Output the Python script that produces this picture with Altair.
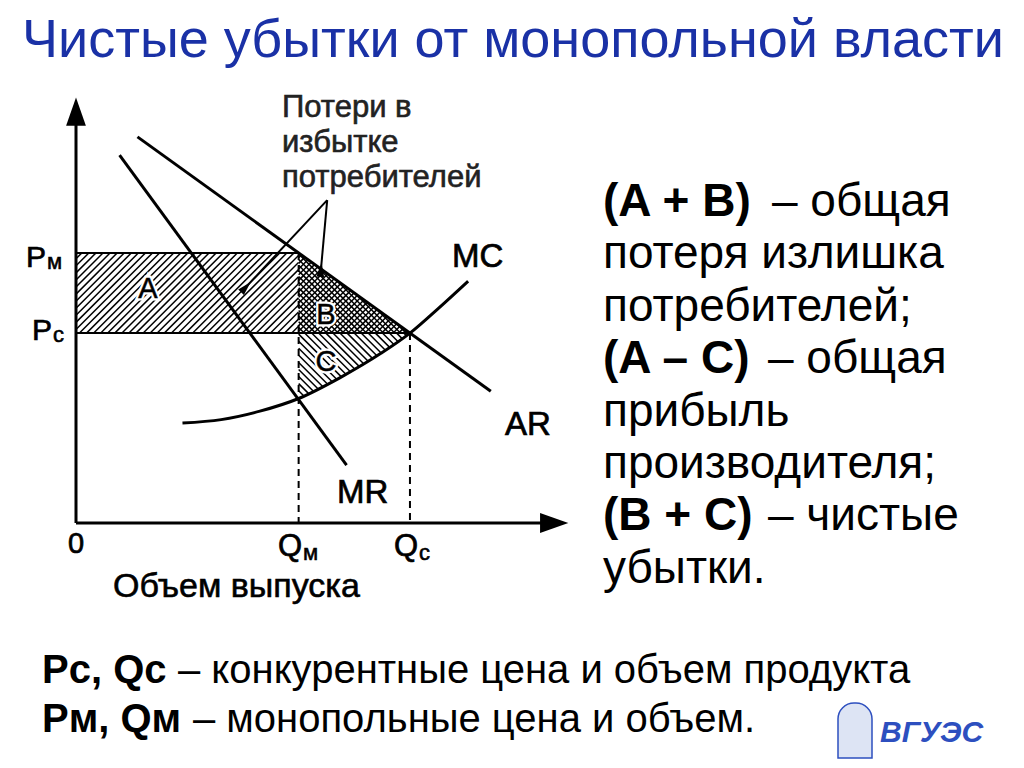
import altair as alt
import numpy as np
import pandas as pd

# ---------------- data ----------------
Q_M, Q_C = 4.6, 6.9          # monopoly / competitive output
P_M, P_C = 6.4, 4.5          # monopoly / competitive price

AR_Q = [1.27, 8.57]
AR_P = [9.15, 3.12]
MR_Q = [0.90, 5.59]
MR_P = [8.72, 1.37]
MC_Q = [2.2, 3.0, 3.8, 4.6, 5.45, 6.3, 6.9, 7.5, 8.1]
MC_P = [2.37, 2.45, 2.65, 2.95, 3.44, 4.02, 4.5, 5.1, 5.73]

AXIS_Q_END = 9.9
AXIS_P_END = 9.8

PTR_APEX = (5.19, 7.65)
PTR_ENDS_Q = [3.51, 5.06]
PTR_ENDS_P = [5.59, 6.00]

TITLE = "Чистые убытки от монопольной власти"
LOSS_LABEL = ["Потери в", "избытке", "потребителей"]
X_TITLE = "Объем выпуска"
RIGHT_BOLD = ["(A + B)", "", "", "(A – C)", "", "", "(B + C)", ""]
RIGHT_NORM = ["–  общая", "потеря излишка", "потребителей;", "– общая",
              "прибыль", "производителя;", "– чистые", "убытки."]
BOTTOM_BOLD = ["Pс, Qс", "Pм, Qм"]
BOTTOM_NORM = ["– конкурентные цена и объем продукта",
               "– монопольные цена и объем."]

# ---------------- scales ----------------
XS = alt.Scale(domain=[0, 10], range=[68, 552])
YS = alt.Scale(domain=[0, 10], range=[515, 93])
SX, SY = 48.4, 42.2  # pixels per unit (for uniform hatch spacing)
FONT = "Liberation Sans"
DUMMY = pd.DataFrame({"a": [0]})


def ar(q):
    return np.interp(q, AR_Q, AR_P)


def mc(q):
    return np.interp(q, MC_Q, MC_P)


def hatch(inside, q0, q1, p0, p1, sign, gap):
    X0, X1, Y0, Y1 = q0 * SX, q1 * SX, p0 * SY, p1 * SY
    xs = np.arange(X0 - 1, X1 + 1, 0.25)
    step = gap * np.sqrt(2)
    if sign > 0:
        cs = np.arange(Y0 - X1, Y1 - X0, step)
    else:
        cs = np.arange(Y0 + X0, Y1 + X1, step)
    segs = []
    for c in cs:
        ys = sign * xs + c
        q, p = xs / SX, ys / SY
        m = inside(q, p)
        idx = np.where(m)[0]
        if len(idx) < 2:
            continue
        segs.append((q[idx[0]], p[idx[0]], q[idx[-1]], p[idx[-1]]))
    return pd.DataFrame(segs, columns=["q", "p", "q2", "p2"])


def in_a(q, p):
    return (q >= 0) & (q <= Q_M) & (p >= P_C) & (p <= P_M)


def in_b(q, p):
    return (q >= Q_M) & (q <= Q_C) & (p >= P_C) & (p <= ar(q))


def in_c(q, p):
    return (q >= Q_M) & (q <= Q_C) & (p <= P_C) & (p >= mc(q))


def rules(df, width=1.4, dash=None):
    kw = dict(color="black", strokeWidth=width)
    if dash:
        kw["strokeDash"] = dash
    return alt.Chart(df).mark_rule(**kw).encode(
        x=alt.X("q:Q", scale=XS, axis=None),
        y=alt.Y("p:Q", scale=YS, axis=None),
        x2="q2:Q", y2="p2:Q")


def txt(s, px, py, size, weight="normal", color="black", align="left",
        thick=0.0, style="normal", font=FONT):
    kw = dict(text=s, fontSize=size, fontWeight=weight, color=color,
              align=align, baseline="alphabetic", font=font, fontStyle=style)
    if thick:
        kw.update(stroke=color, strokeWidth=thick)
    return alt.Chart(DUMMY).mark_text(**kw).encode(
        x=alt.value(px - 8), y=alt.value(py - 8))


layers = []

# hatching
layers.append(rules(hatch(in_a, 0, Q_M, P_C, P_M, +1, 5.0), 1.5))
layers.append(rules(hatch(in_b, Q_M, Q_C, P_C, P_M + 0.2, +1, 4.0), 1.5))
layers.append(rules(hatch(in_b, Q_M, Q_C, P_C, P_M + 0.2, -1, 4.0), 1.5))
layers.append(rules(hatch(in_c, Q_M, Q_C, 2.8, P_C, -1, 5.0), 1.5))

# price levels and quantities
levels = pd.DataFrame({"q": [0, 0], "q2": [Q_M, Q_C],
                       "p": [P_M, P_C], "p2": [P_M, P_C]})
layers.append(rules(levels, 2.0))
drops = pd.DataFrame({"q": [Q_M, Q_C], "q2": [Q_M, Q_C],
                      "p": [P_M, P_C], "p2": [0, 0]})
layers.append(rules(drops, 2.0, [7, 5]))

# AR and MR
lin = pd.DataFrame({"q": AR_Q + MR_Q, "p": AR_P + MR_P,
                    "n": ["AR", "AR", "MR", "MR"]})
layers.append(alt.Chart(lin).mark_line(color="black", strokeWidth=3).encode(
    x=alt.X("q:Q", scale=XS, axis=None), y=alt.Y("p:Q", scale=YS, axis=None),
    detail="n:N"))
# MC
mcdf = pd.DataFrame({"q": MC_Q, "p": MC_P})
layers.append(alt.Chart(mcdf).mark_line(color="black", strokeWidth=3,
                                         interpolate="monotone").encode(
    x=alt.X("q:Q", scale=XS, axis=None), y=alt.Y("p:Q", scale=YS, axis=None)))

# axes
axes = pd.DataFrame({"q": [0, 0], "q2": [0, AXIS_Q_END],
                     "p": [0, 0], "p2": [AXIS_P_END, 0]})
layers.append(rules(axes, 3.0))
layers.append(alt.Chart(pd.DataFrame({"q": [0], "p": [AXIS_P_END - 0.05]})).mark_point(
    shape="M0,-1L0.7,1L-0.7,1Z", size=800, filled=True, color="black", opacity=1).encode(
    x=alt.X("q:Q", scale=XS, axis=None), y=alt.Y("p:Q", scale=YS, axis=None)))
layers.append(alt.Chart(pd.DataFrame({"q": [AXIS_Q_END - 0.02], "p": [0]})).mark_point(
    shape="M1,0L-1,0.7L-1,-0.7Z", size=800, filled=True, color="black", opacity=1).encode(
    x=alt.X("q:Q", scale=XS, axis=None), y=alt.Y("p:Q", scale=YS, axis=None)))

# pointer lines from the loss label
ptr = pd.DataFrame({"q": [PTR_APEX[0]] * 2, "p": [PTR_APEX[1]] * 2,
                    "q2": PTR_ENDS_Q, "p2": PTR_ENDS_P, "ang": [223, 185]})
layers.append(rules(ptr, 2.0))
layers.append(alt.Chart(ptr).mark_point(
    shape="M0,1L0.55,-1L-0.55,-1Z", size=200, filled=True, color="black", opacity=1).encode(
    x=alt.X("q2:Q", scale=XS, axis=None), y=alt.Y("p2:Q", scale=YS, axis=None),
    angle=alt.Angle("ang:Q", scale=None)))

# region letters with white halo
for s, px, py in [("A", 148, 298), ("B", 326, 324), ("C", 326, 371)]:
    layers.append(txt(s, px, py, 29, align="center", color="white", thick=5))
    layers.append(txt(s, px, py, 29, align="center", thick=0.5))

# diagram labels
layers += [
    txt("P", 26, 267, 30, thick=0.7), txt("м", 47, 269, 22, thick=0.6),
    txt("P", 32, 340, 30, thick=0.7), txt("c", 53, 342, 22, thick=0.6),
    txt("0", 76, 553, 29, align="center", thick=0.7),
    txt("Q", 278, 556, 31, thick=0.7), txt("м", 303, 560, 22, thick=0.6),
    txt("Q", 394, 556, 31, thick=0.7), txt("c", 419, 560, 22, thick=0.6),
    txt("MC", 452, 267, 33, thick=0.7),
    txt("AR", 505, 435, 33, thick=0.7),
    txt("MR", 337, 503, 33, thick=0.7),
    txt(X_TITLE, 113, 597, 34, thick=0.6),
]
for i, s in enumerate(LOSS_LABEL):
    layers.append(txt(s, 282, 117 + 35 * i, 31, thick=0.6, color="#222222"))

# title
layers.append(txt(TITLE, 22, 57, 54, color="#1a31a6"))

# right-hand explanation
base = [216, 268, 321, 373, 426, 478, 530, 583]
for b, n, y in zip(RIGHT_BOLD, RIGHT_NORM, base):
    if b:
        layers.append(txt(b, 603, y, 46, weight="bold"))
        layers.append(txt(n, 772 if n.startswith("–  ") else 768, y, 46))
    else:
        layers.append(txt(n, 603, y, 46))

# bottom notes
for b, n, y, nx in zip(BOTTOM_BOLD, BOTTOM_NORM, [683, 732], [178, 193]):
    layers.append(txt(b, 42, y, 40, weight="bold"))
    layers.append(txt(n, nx, y, 40))

# logo
layers.append(alt.Chart(DUMMY).mark_rect(
    fill="#dde4f4", stroke="#2d4fbf", strokeWidth=1.5,
    cornerRadiusTopLeft=16, cornerRadiusTopRight=16).encode(
    x=alt.value(838 - 8), x2=alt.value(872 - 8),
    y=alt.value(703 - 8), y2=alt.value(758 - 8)))
layers.append(txt("ВГУЭС", 880, 742, 30, weight="bold", style="italic",
                  color="#2d4fbf"))

chart = alt.layer(*layers).properties(
    width=1008, height=752, padding=0,
    autosize=alt.AutoSizeParams(type="none"),
    background="white",
).configure_view(stroke=None)

chart.save("out.html", embed_options={"renderer": "svg", "actions": False})
